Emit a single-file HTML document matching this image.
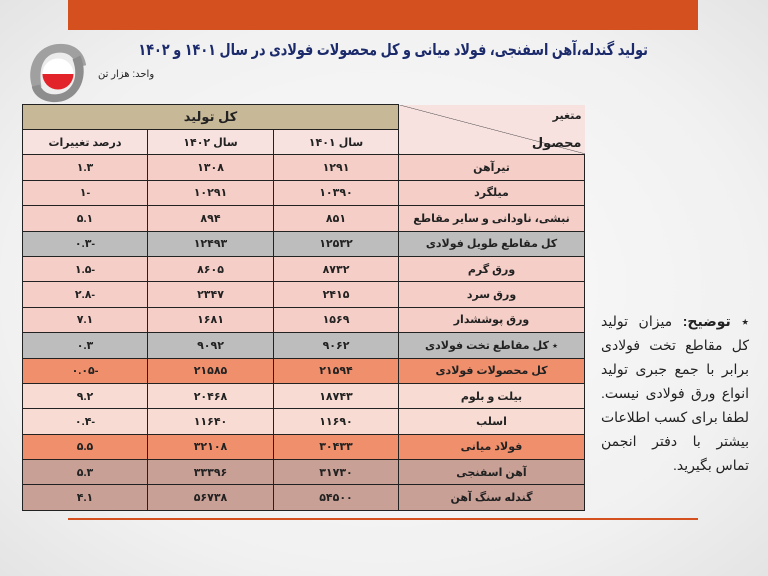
<!DOCTYPE html>
<html><head><meta charset="utf-8"><style>
html,body{margin:0;padding:0}
body{width:768px;height:576px;position:relative;overflow:hidden;background:radial-gradient(ellipse at center,#fbfbfb 0%,#f1f1f1 70%,#e4e4e4 100%);font-family:"Liberation Sans","DejaVu Sans",sans-serif}
.top{position:absolute;left:68px;top:0;width:630px;height:30px;background:#d5501f}
.bot{position:absolute;left:68px;top:518px;width:630px;height:2px;background:#d5501f}
.title{position:absolute;right:120px;top:40px;font-size:16px;font-weight:bold;color:#1b2a6b;direction:rtl;white-space:nowrap;transform:scaleX(0.8);transform-origin:right center}
.unit{position:absolute;left:98px;top:69px;font-size:10px;color:#222;direction:rtl}
table{position:absolute;left:22px;top:104px;border-collapse:collapse;direction:rtl;font-size:11px;font-weight:bold;color:#222}
td{border:1.5px solid #222;text-align:center;padding:0;height:24.4px}
.tan{background:#c7b898}
.h2{background:#f7e2e0}
.p{background:#f5cec7}
.l{background:#f8dcd3}
.g{background:#bdbdbd}
.o{background:#ef8f6c}
.b{background:#c9a096}
.note{position:absolute;left:601px;top:309px;width:148px;direction:rtl;font-size:14px;line-height:24px;color:#222}
.note div{text-align:justify;text-align-last:justify;white-space:nowrap}
.note div.last{text-align-last:right}
</style></head><body>
<div class="top"></div>
<div class="bot"></div>
<svg style="position:absolute;left:24px;top:40px" width="66" height="66" viewBox="0 0 68 68">
<path d="M10 52 C0 30 12 4 38 4 C52 4 62 12 64 26 L54 28 C52 18 46 13 37 13 C22 13 14 26 18 48 Z" fill="#a0a0a0"/>
<path d="M58 16 C68 38 56 64 32 64 C20 64 10 58 8 48 L16 46 C20 54 25 56 32 56 C48 56 58 40 50 20 Z" fill="#8d8d8d"/>
<circle cx="35" cy="35" r="16" fill="#fff"/>
<path d="M19 35 L51 35 A16 16 0 0 1 19 35 Z" fill="#e2232a"/>
</svg>
<div class="title">تولید گندله،آهن اسفنجی، فولاد میانی و کل محصولات فولادی در سال ۱۴۰۱ و ۱۴۰۲</div>
<div class="unit">واحد: هزار تن</div>
<table>
<colgroup><col style="width:186px"><col style="width:125px"><col style="width:126px"><col style="width:125px"></colgroup>
<tr><td class="h2" rowspan="2" style="border-top:none;border-right:none;position:relative;height:47px;background:linear-gradient(to top right,#f7e2e0 49.6%,#444 50%,#f7e2e0 50.6%)"><div style="position:absolute;right:3px;top:4px">متغیر</div><div style="position:absolute;right:3px;bottom:3px;font-size:13px">محصول</div></td><td class="tan" colspan="3" style="height:24px;font-size:13px">کل تولید</td></tr>
<tr class="h2"><td style="height:22px">سال ۱۴۰۱</td><td>سال ۱۴۰۲</td><td>درصد تغییرات</td></tr>
<tr class="p"><td>تیرآهن</td><td>۱۲۹۱</td><td>۱۳۰۸</td><td>۱.۳</td></tr>
<tr class="p"><td>میلگرد</td><td>۱۰۳۹۰</td><td>۱۰۲۹۱</td><td>-۱</td></tr>
<tr class="p"><td>نبشی، ناودانی و سایر مقاطع</td><td>۸۵۱</td><td>۸۹۴</td><td>۵.۱</td></tr>
<tr class="g"><td>کل مقاطع طویل فولادی</td><td>۱۲۵۳۲</td><td>۱۲۴۹۳</td><td>-۰.۳</td></tr>
<tr class="p"><td>ورق گرم</td><td>۸۷۳۲</td><td>۸۶۰۵</td><td>-۱.۵</td></tr>
<tr class="p"><td>ورق سرد</td><td>۲۴۱۵</td><td>۲۳۴۷</td><td>-۲.۸</td></tr>
<tr class="p"><td>ورق پوششدار</td><td>۱۵۶۹</td><td>۱۶۸۱</td><td>۷.۱</td></tr>
<tr class="g"><td>٭ کل مقاطع تخت فولادی</td><td>۹۰۶۲</td><td>۹۰۹۲</td><td>۰.۳</td></tr>
<tr class="o"><td>کل محصولات فولادی</td><td>۲۱۵۹۴</td><td>۲۱۵۸۵</td><td>-۰.۰۵</td></tr>
<tr class="l"><td>بیلت و بلوم</td><td>۱۸۷۴۳</td><td>۲۰۴۶۸</td><td>۹.۲</td></tr>
<tr class="l"><td>اسلب</td><td>۱۱۶۹۰</td><td>۱۱۶۴۰</td><td>-۰.۴</td></tr>
<tr class="o"><td>فولاد میانی</td><td>۳۰۴۳۳</td><td>۳۲۱۰۸</td><td>۵.۵</td></tr>
<tr class="b"><td>آهن اسفنجی</td><td>۳۱۷۳۰</td><td>۳۳۳۹۶</td><td>۵.۳</td></tr>
<tr class="b"><td>گندله سنگ آهن</td><td>۵۴۵۰۰</td><td>۵۶۷۳۸</td><td>۴.۱</td></tr>
</table>
<div class="note">
<div>٭ <b>توضیح:</b> میزان تولید</div>
<div>کل مقاطع تخت فولادی</div>
<div>برابر با جمع جبری تولید</div>
<div>انواع ورق فولادی نیست.</div>
<div>لطفا برای کسب اطلاعات</div>
<div>بیشتر با دفتر انجمن</div>
<div class="last">تماس بگیرید.</div>
</div>
</body></html>
